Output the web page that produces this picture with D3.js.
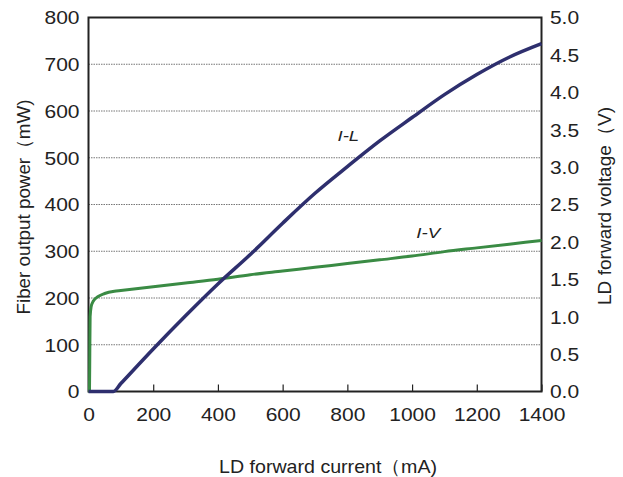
<!DOCTYPE html>
<html><head><meta charset="utf-8">
<script src="https://cdn.jsdelivr.net/npm/d3@7"></script>
<style>body{margin:0;background:#fff}svg{display:block}text{font-family:"Liberation Sans",Arial,sans-serif;fill:#222}</style>
</head><body><svg id="c" width="623" height="477"></svg>
<script>
const currentIL = [0, 50, 77, 100, 200, 300, 400, 500, 600, 700, 800, 900, 1000, 1100, 1200, 1300, 1400];
const powerIL   = [0, 0, 0, 17, 91, 162, 230, 293, 360, 424, 481, 536, 586, 635, 678, 715, 744];
const currentIV = [0, 3, 4, 5, 8, 15, 30, 50, 80, 100, 200, 300, 400, 500, 600, 700, 800, 900, 1000, 1100, 1200, 1300, 1400];
const voltageIV = [0, 0, 0.5, 1.0, 1.13, 1.21, 1.27, 1.31, 1.34, 1.35, 1.40, 1.45, 1.50, 1.56, 1.61, 1.66, 1.71, 1.76, 1.81, 1.87, 1.92, 1.97, 2.02];
const xTicks = [0, 200, 400, 600, 800, 1000, 1200, 1400];
const yLeftTicks = [0, 100, 200, 300, 400, 500, 600, 700, 800];
const yRightTicks = [0, 0.5, 1.0, 1.5, 2.0, 2.5, 3.0, 3.5, 4.0, 4.5, 5.0];

const svg = d3.select("#c");
const L = 88.5, R = 541.5, T = 17.5, B = 391.5;
const SX = 1.2; // horizontal glyph stretch of the reference lettering
const x = d3.scaleLinear().domain([0, 1400]).range([L, R]);
const yL = d3.scaleLinear().domain([0, 800]).range([B, T]);
const yR = d3.scaleLinear().domain([0, 5]).range([B, T]);

// grid
svg.append("g").selectAll("line").data(yLeftTicks.filter(d => d > 0 && d < 800)).join("line")
  .attr("x1", L).attr("x2", R).attr("y1", d => yL(d)).attr("y2", d => yL(d))
  .attr("stroke", "#777").attr("stroke-width", 1).attr("stroke-dasharray", "1.5,1");

// axes
const xAxis = svg.append("g").attr("transform", `translate(0,${B})`)
  .call(d3.axisBottom(x).tickValues(xTicks).tickSizeInner(-7).tickSizeOuter(0).tickPadding(17).tickFormat(d3.format("d")));
const yAxisL = svg.append("g").attr("transform", `translate(${L},0)`)
  .call(d3.axisLeft(yL).tickValues(yLeftTicks).tickSize(0).tickPadding(7.5).tickFormat(d3.format("d")));
const yAxisR = svg.append("g").attr("transform", `translate(${R},0)`)
  .call(d3.axisRight(yR).tickValues(yRightTicks).tickSize(0).tickPadding(7).tickFormat(d3.format(".1f")));
[xAxis, yAxisL, yAxisR].forEach(g => {
  g.selectAll("text").attr("font-size", 17.5).attr("fill", "#222").attr("font-family", "Liberation Sans, Arial, sans-serif")
    .attr("transform", `scale(${SX},1)`);
  g.selectAll(".domain").remove();
  g.selectAll("line").attr("stroke", "#222").attr("stroke-width", 1.2);
});
yAxisL.selectAll("text").attr("dy", "0.36em");
yAxisR.selectAll("text").attr("dy", "0.36em");

// frame
svg.append("rect").attr("x", L).attr("y", T).attr("width", R - L).attr("height", B - T)
  .attr("fill", "none").attr("stroke", "#222").attr("stroke-width", 2);

// lines
const ivData = currentIV.map((c, i) => [c, voltageIV[i]]);
const ilData = currentIL.map((c, i) => [c, powerIL[i]]);
svg.append("path").datum(ivData)
  .attr("d", d3.line().x(d => x(d[0])).y(d => yR(d[1])).curve(d3.curveMonotoneX))
  .attr("fill", "none").attr("stroke", "#3a8b44").attr("stroke-width", 3);
svg.append("path").datum(ilData)
  .attr("d", d3.line().x(d => x(d[0])).y(d => yL(d[1])).curve(d3.curveMonotoneX))
  .attr("fill", "none").attr("stroke", "#2e2f6e").attr("stroke-width", 3.5);

// series labels
function label(px, py, txt, size, italic) {
  return svg.append("g").attr("transform", `translate(${px},${py}) scale(${SX},1)`)
    .append("text").attr("text-anchor", "middle").attr("font-size", size)
    .attr("font-style", italic ? "italic" : "normal").text(txt);
}
label(x(800) + 1, yL(535), "I-L", 15.5, true);
label(x(1050), yL(328), "I-V", 15.5, true);

// axis titles, fitted to reference length
function title(px, py, txt, len, rotate) {
  return svg.append("text")
    .attr("transform", `translate(${px},${py})${rotate ? " rotate(-90)" : ""}`)
    .attr("text-anchor", "middle").attr("font-size", 19)
    .attr("textLength", len).attr("lengthAdjust", "spacingAndGlyphs").text(txt);
}
title(328, 473, "LD forward current（mA)", 218, false);
title(30, 207, "Fiber output power（mW)", 215, true);
title(611, 206, "LD forward voltage（V)", 198, true);
</script></body></html>
